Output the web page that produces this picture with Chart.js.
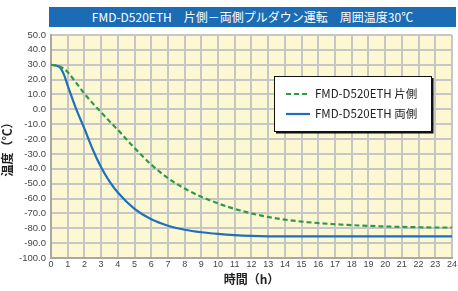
<!DOCTYPE html>
<html>
<head>
<meta charset="utf-8">
<script src="https://cdn.jsdelivr.net/npm/chart.js@4.4.0/dist/chart.umd.min.js"></script>
<style>
  html, body { margin: 0; padding: 0; background: #fff; }
  #wrap { position: relative; width: 458px; height: 291px; }
  #banner {
    position: absolute; left: 49px; top: 7px; width: 407px; height: 20px;
    background: #1b6cb5; color: #fff; text-align: center;
    font: 12px/20px "Noto Sans CJK JP", sans-serif;
  }
</style>
</head>
<body>
<div id="wrap">
  <canvas id="myChart" width="458" height="291"></canvas>
  <div id="banner">FMD-D520ETH　片側－両側プルダウン運転　周囲温度30℃</div>
</div>
<script>
// data
const hours = [0, 0.5, 0.75, 1, 1.5, 2, 2.5, 3, 3.5, 4, 5, 6, 7, 8, 9, 10, 11, 12, 13, 14, 15, 16, 17, 18, 19, 20, 21, 22, 23, 24];
const oneSide = [30, 29, 27.5, 25, 18, 10.5, 4, -2, -8, -13.8, -26, -37.2, -46.3, -53.3, -58.8, -63.3, -67, -70, -72.4, -74.2, -75.5, -76.5, -77.3, -77.9, -78.4, -78.8, -79.1, -79.3, -79.5, -79.5];
const bothSide = [30, 28.5, 24, 16, 0.5, -13, -27, -39, -48.5, -56, -67, -74, -78.3, -81, -82.7, -83.8, -84.6, -85.1, -85.4, -85.5, -85.5, -85.5, -85.5, -85.5, -85.5, -85.5, -85.5, -85.5, -85.5, -85.5];
const seriesNames = ['FMD-D520ETH 片側', 'FMD-D520ETH 両側'];
const xTitle = '時間（h）';
const yTitle = '温度（℃）';

const toPts = vals => hours.map((h, i) => ({x: h, y: vals[i]}));

// plot background
const bgPlugin = {
  id: 'bg',
  beforeDraw(chart) {
    const {ctx, chartArea: a} = chart;
    ctx.save();
    ctx.fillStyle = '#fcf8d2';
    ctx.fillRect(a.left, a.top, a.right - a.left, a.bottom - a.top);
    ctx.restore();
  }
};

// boxed legend inside the plot
const boxLegend = {
  id: 'boxLegend',
  afterDraw(chart) {
    const ctx = chart.ctx;
    const x = 274, y = 76, w = 157, h = 55;
    ctx.save();
    ctx.fillStyle = '#fff';
    ctx.fillRect(x, y, w, h);
    ctx.strokeStyle = '#111';
    ctx.lineWidth = 1;
    ctx.strokeRect(x + 0.5, y + 0.5, w, h);
    ctx.lineWidth = 2;
    ctx.beginPath();
    ctx.moveTo(x + w + 1.5, y + 2);
    ctx.lineTo(x + w + 1.5, y + h + 1.5);
    ctx.lineTo(x + 2, y + h + 1.5);
    ctx.stroke();
    ctx.font = '11.5px "Noto Sans CJK JP", sans-serif';
    ctx.textBaseline = 'middle';
    chart.data.datasets.forEach((ds, i) => {
      const ly = y + 18 + i * 20;
      ctx.strokeStyle = ds.borderColor;
      ctx.lineWidth = ds.borderWidth;
      ctx.setLineDash(ds.borderDash || []);
      ctx.beginPath();
      ctx.moveTo(x + 12, ly);
      ctx.lineTo(x + 36, ly);
      ctx.stroke();
      ctx.setLineDash([]);
      ctx.fillStyle = '#222';
      ctx.fillText(ds.label, x + 41, ly);
    });
    ctx.restore();
  }
};

new Chart(document.getElementById('myChart'), {
  type: 'line',
  data: {
    datasets: [
      {
        label: seriesNames[0],
        data: toPts(oneSide),
        borderColor: '#2e9a47',
        borderWidth: 2.2,
        borderDash: [5, 3],
        pointRadius: 0,
        fill: false,
        cubicInterpolationMode: 'monotone'
      },
      {
        label: seriesNames[1],
        data: toPts(bothSide),
        borderColor: '#1f6fba',
        borderWidth: 2.2,
        pointRadius: 0,
        fill: false,
        cubicInterpolationMode: 'monotone'
      }
    ]
  },
  options: {
    responsive: false,
    animation: false,
    layout: { padding: { top: 35, right: 1, left: 0, bottom: 0 } },
    plugins: {
      legend: { display: false },
      tooltip: { enabled: false }
    },
    scales: {
      x: {
        type: 'linear',
        min: 0, max: 24,
        afterFit: s => { s.height = 33; },
        ticks: { stepSize: 1, padding: 1, color: '#444', font: { family: 'Liberation Sans', size: 9 } },
        grid: { color: '#c6c6c6', lineWidth: 2, drawTicks: false },
        border: { color: '#a8a8a8', width: 2 },
        title: { display: true, text: xTitle, color: '#222', padding: { top: 4 }, font: { family: '"Noto Sans CJK JP"', size: 12, weight: 'bold' } }
      },
      y: {
        min: -100, max: 50,
        afterFit: s => { s.width = 51; },
        ticks: { stepSize: 10, padding: 5, color: '#444', font: { family: 'Liberation Sans', size: 9.5 }, callback: v => v.toFixed(1) },
        grid: { color: '#c6c6c6', lineWidth: 2, drawTicks: false },
        border: { color: '#a8a8a8', width: 2 },
        title: { display: true, text: yTitle, color: '#222', padding: 0, font: { family: '"Noto Sans CJK JP"', size: 12, weight: 'bold' } }
      }
    }
  },
  plugins: [bgPlugin, boxLegend]
});
</script>
</body>
</html>
